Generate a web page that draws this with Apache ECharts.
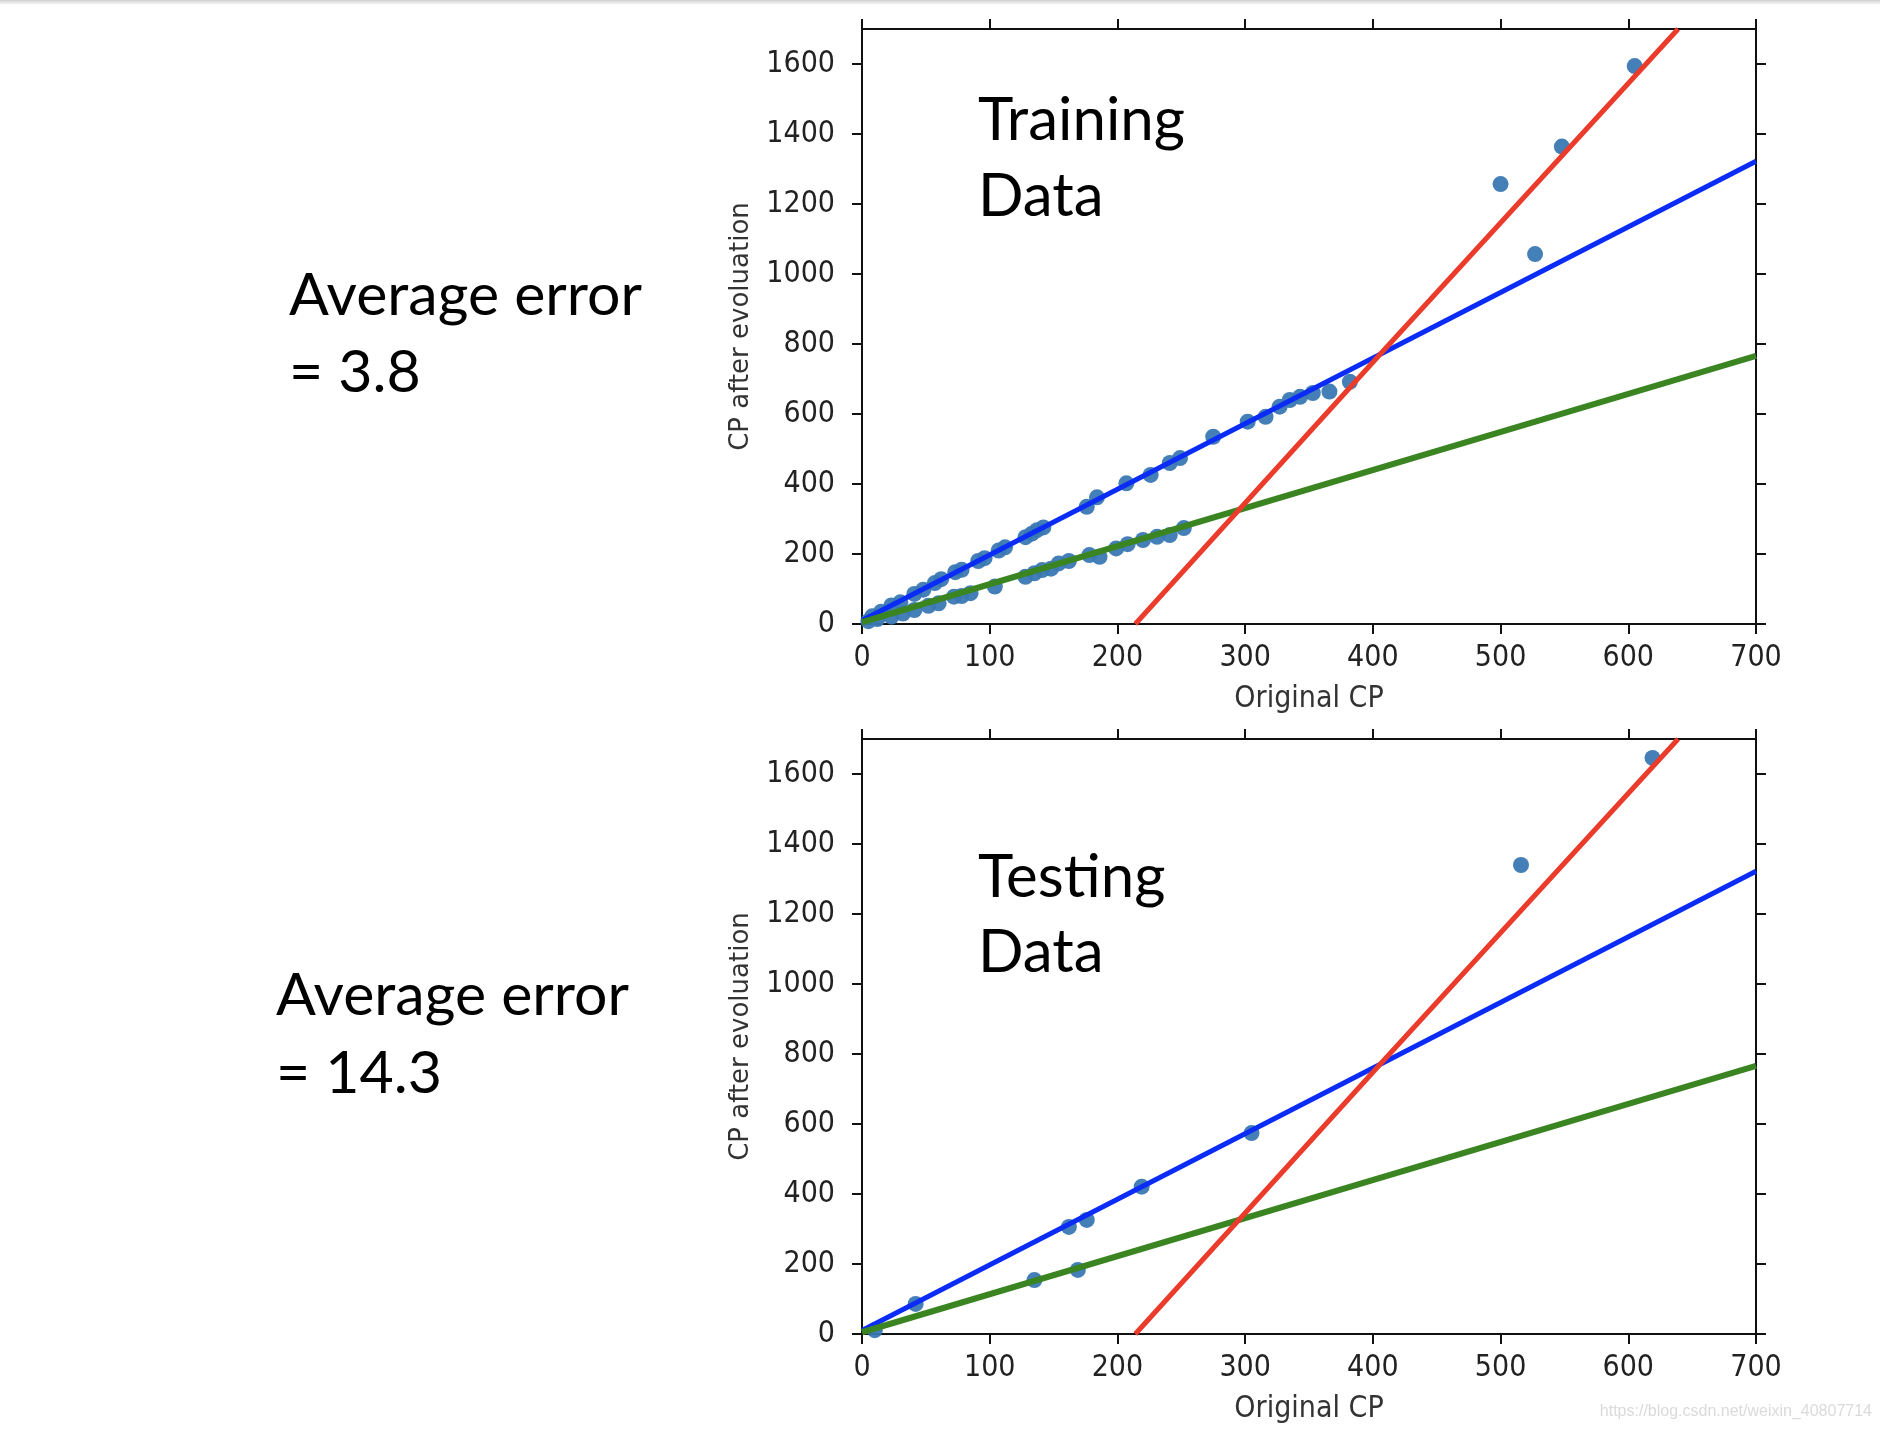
<!DOCTYPE html>
<html><head><meta charset="utf-8">
<script src="https://cdn.jsdelivr.net/npm/echarts@6/dist/echarts.min.js"></script>
<style>html,body{margin:0;padding:0;background:#fff;} #c{width:1880px;height:1430px;}</style>
</head><body><div id="c"></div>
<script>
// ---- data ----
const trainX = [8, 15, 23, 30, 41, 48, 57, 62, 73, 78, 91, 96, 107, 112, 128, 133, 137, 142, 176, 184, 207, 226, 241, 249, 275, 302, 316, 327, 335, 343, 353, 366, 382,
                5, 12, 23, 32, 41, 52, 60, 72, 78, 85, 104, 128, 135, 141, 148, 154, 162, 178, 186, 199, 208, 220, 231, 241, 252,
                500, 527, 548, 605];
const trainY = [22, 35, 53, 62, 86, 98, 117, 128, 148, 155, 180, 188, 210, 219, 248, 258, 268, 276, 335, 362, 402, 426, 460, 474, 535, 578, 592, 621, 640, 649, 660, 664, 692,
                8, 14, 21, 30, 40, 52, 59, 78, 80, 88, 107, 135, 145, 154, 158, 173, 180, 197, 192, 216, 228, 240, 249, 254, 274,
                1257, 1057, 1364, 1594];
const testX = [10, 42, 135, 162, 169, 176, 219, 305, 516, 619];
const testY = [11, 86, 154, 306, 183, 326, 421, 574, 1340, 1646];
const fitX = [0, 700];
const blueY = [10, 1322];
const greenY = [5, 766];
const redX = [214, 405, 639];
const redY = [0, 768, 1700];
const yTickValues = [0, 200, 400, 600, 800, 1000, 1200, 1400, 1600];
const panelTitles = [['Training', 'Data'], ['Testing', 'Data']];
const errorTexts = [['Average error', '= 3.8'], ['Average error', '= 14.3']];
const xName = 'Original CP';
const yName = 'CP after evoluation';
const watermark = 'https://blog.csdn.net/weixin_40807714';

// ---- styling ----
const condensed = "'DejaVu Sans Condensed', 'DejaVu Sans', sans-serif";
const tickColor = '#111';
const lineStyle = {color: tickColor, width: 2};
const tick = {show: true, inside: false, length: 10, lineStyle: {color: tickColor, width: 2}};
const zip = (a, b) => a.map((v, i) => [v, b[i]]);
const plain = v => String(v);

const grids = [
  {left: 862, top: 29, width: 894, height: 595},
  {left: 862, top: 739, width: 894, height: 595}
];
const xAxes = [], yAxes = [], series = [];
grids.forEach((g, gi) => {
  xAxes.push({type: 'value', gridIndex: gi, position: 'bottom', min: 0, max: 700, interval: 100,
    axisLine: {show: true, onZero: false, lineStyle}, axisTick: tick, splitLine: {show: false},
    axisLabel: {show: true, margin: 19, color: '#222', fontSize: 30, fontFamily: condensed, formatter: plain},
    name: xName, nameLocation: 'middle', nameGap: 60,
    nameTextStyle: {color: '#333', fontSize: 30, fontFamily: condensed}});
  xAxes.push({type: 'value', gridIndex: gi, position: 'top', min: 0, max: 700, interval: 100,
    axisLine: {show: true, onZero: false, lineStyle}, axisTick: tick, splitLine: {show: false},
    axisLabel: {show: false}});
  yAxes.push({type: 'value', gridIndex: gi, position: 'left', min: 0, max: 1700, interval: 200,
    axisLine: {show: true, onZero: false, lineStyle},
    axisTick: Object.assign({}, tick, {customValues: yTickValues}), splitLine: {show: false},
    axisLabel: {show: true, margin: 27, color: '#222', fontSize: 30, fontFamily: condensed, customValues: yTickValues, formatter: plain},
    name: yName, nameLocation: 'middle', nameRotate: 90, nameGap: 108,
    nameTextStyle: {color: '#333', fontSize: 26, fontFamily: "'DejaVu Sans', sans-serif"}});
  yAxes.push({type: 'value', gridIndex: gi, position: 'right', min: 0, max: 1700, interval: 200,
    axisLine: {show: true, onZero: false, lineStyle},
    axisTick: Object.assign({}, tick, {customValues: yTickValues}), splitLine: {show: false},
    axisLabel: {show: false}});
  const xi = gi * 2, yi = gi * 2;
  series.push({type: 'scatter', xAxisIndex: xi, yAxisIndex: yi, symbolSize: 16, z: 2,
    itemStyle: {color: '#3a78b3', opacity: 0.95},
    data: gi === 0 ? zip(trainX, trainY) : zip(testX, testY)});
  series.push({type: 'line', xAxisIndex: xi, yAxisIndex: yi, showSymbol: false, z: 3, clip: true,
    lineStyle: {color: '#0a2cf6', width: 5}, data: zip(fitX, blueY)});
  series.push({type: 'line', xAxisIndex: xi, yAxisIndex: yi, showSymbol: false, z: 3, clip: true,
    lineStyle: {color: '#3a8522', width: 6}, data: zip(fitX, greenY)});
  series.push({type: 'line', xAxisIndex: xi, yAxisIndex: yi, showSymbol: false, z: 4, clip: true,
    lineStyle: {color: '#ea3b2b', width: 5}, data: zip(redX, redY)});
});

const annoFont = "Lato, 'Open Sans', sans-serif";
const graphic = [
  {type: 'rect', shape: {x: 0, y: 0, width: 1880, height: 5},
   style: {fill: new echarts.graphic.LinearGradient(0, 0, 0, 1, [{offset: 0, color: '#cfcfcf'}, {offset: 1, color: '#ffffff'}])}},
  {type: 'text', x: 1872, y: 1412, style: {text: watermark, fill: '#dadada', fontSize: 16,
    fontFamily: "'Liberation Sans', sans-serif", align: 'right', verticalAlign: 'middle'}}
];
const errPos = [[289, 318, 395], [276, 1018, 1096]];
const titlePos = [[978, 144, 220], [978, 901, 976]];
[0, 1].forEach(i => {
  [0, 1].forEach(l => {
    graphic.push({type: 'text', x: errPos[i][0], y: errPos[i][1 + l] - 22,
      style: {text: errorTexts[i][l], fill: '#000', fontSize: 59, fontFamily: annoFont, align: 'left', verticalAlign: 'middle'}});
    graphic.push({type: 'text', x: titlePos[i][0], y: titlePos[i][1 + l] - 23,
      style: {text: panelTitles[i][l], fill: '#000', fontSize: 60, fontFamily: annoFont, align: 'left', verticalAlign: 'middle'}});
  });
});

const chart = echarts.init(document.getElementById('c'), null, {renderer: 'canvas'});
// the reference font has no "ti" ligature: a tiny letter spacing turns ligatures off
document.querySelectorAll('#c canvas').forEach(cv => {
  const ctx = cv.getContext('2d');
  if (ctx && 'letterSpacing' in ctx) ctx.letterSpacing = '0.01px';
});
chart.setOption({
  animation: false,
  backgroundColor: '#fff',
  grid: grids,
  xAxis: xAxes,
  yAxis: yAxes,
  series: series,
  graphic: graphic
});
</script>
</body></html>
